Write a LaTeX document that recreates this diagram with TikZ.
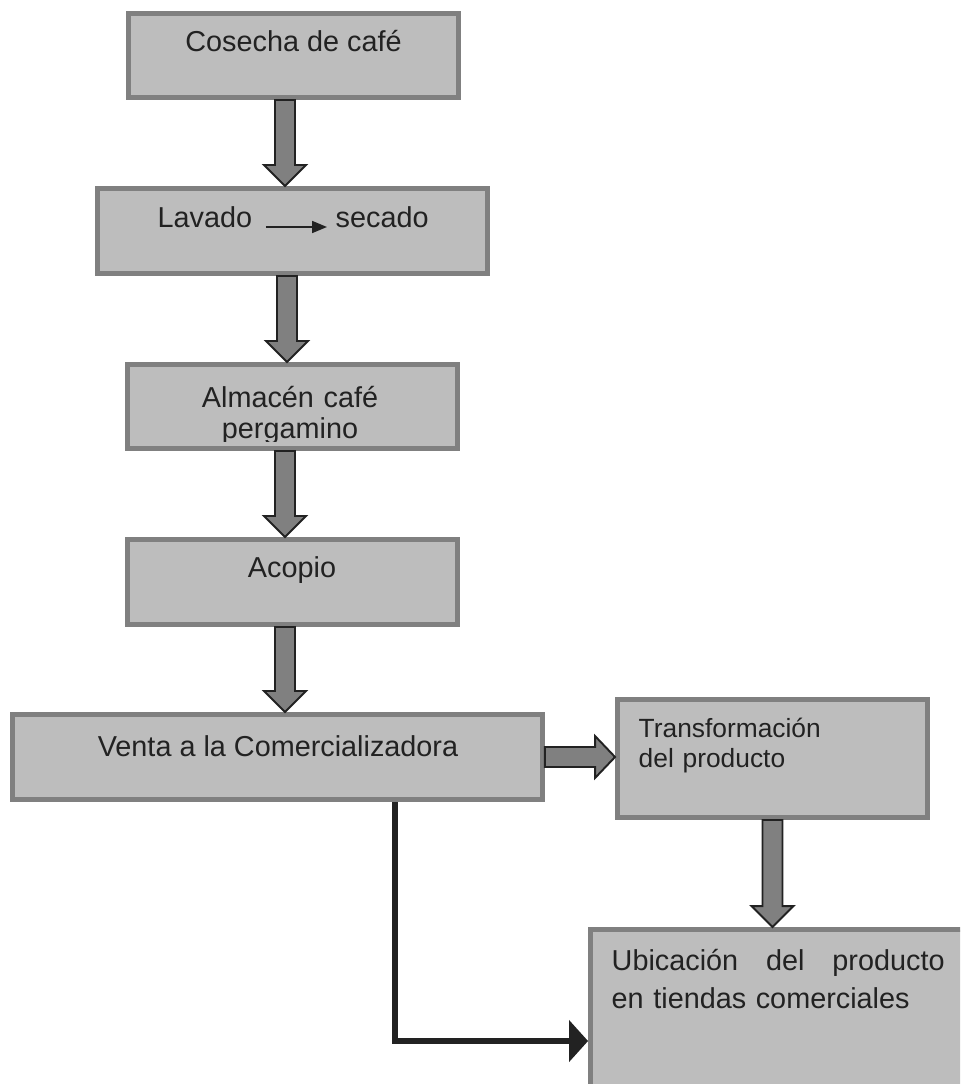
\documentclass[tikz,border=0pt]{standalone}
\usepackage{fontspec}
\setmainfont{Liberation Sans}
\usetikzlibrary{calc,arrows.meta}
\definecolor{boxfill}{RGB}{189,189,189}
\definecolor{boxedge}{RGB}{128,128,128}
\definecolor{arrowfill}{RGB}{128,128,128}
\definecolor{ink}{RGB}{34,34,34}
\tikzset{
	stage/.style={draw=boxedge, fill=boxfill, line width=0.1cm, inner sep=0pt},
	txt/.style={text=ink, inner sep=0pt, font=\fontsize{16.4}{19}\selectfont},
	blockarrow/.style={draw=ink, fill=arrowfill, line width=1.1pt, line join=miter},
	feed/.style={draw=ink, line width=0.13cm, -{Triangle[length=0.38cm,width=0.82cm]}},
}
\begin{document}
\begin{tikzpicture}[thick, x=0.02cm, y=-0.02cm]
			\useasboundingbox (0,0) rectangle (960,1084);
			\clip (0,0) rectangle (960,1084);
			% boxes
			\node[stage, minimum width=6.6cm, minimum height=1.68cm] (cosecha) at (293.5,55.5) {};
			\node[stage, minimum width=7.8cm, minimum height=1.7cm] (lavado) at (292.5,231) {};
			\node[stage, minimum width=6.6cm, minimum height=1.68cm] (almacen) at (292.5,406.5) {};
			\node[stage, minimum width=6.6cm, minimum height=1.7cm] (acopio) at (292.5,582) {};
			\node[stage, minimum width=10.6cm, minimum height=1.7cm] (venta) at (277.5,757) {};
			\node[stage, minimum width=6.2cm, minimum height=2.36cm] (transf) at (772.5,758.5) {};
			\node[stage, minimum width=7.94cm, minimum height=3.76cm] (ubic) at (789,1023.5) {};
			% texts
			\node[txt, anchor=base] (cosecha-txt) at (293.5,52) {Cosecha de café};
			\node[txt, anchor=base west] (lav-txt) at (157,228) {Lavado};
			\node[txt, anchor=base west] (sec-txt) at (335,228) {secado};
			\draw[draw=ink, line width=1pt, -{Triangle[length=0.3cm,width=0.24cm]}] ($(lav-txt.base east)+(13,-1)$) -- ($(sec-txt.base west)+(-8,-1)$);
			\begin{scope}
				\clip (0,0) rectangle (960,441);
				\node[txt, font=\fontsize{16.4}{18.2}\selectfont, text width=5cm, align=center, anchor=base] (almacen-txt) at (290,407) {Almacén café\\pergamino};
			\end{scope}
			\node[txt, anchor=base] (acopio-txt) at (292,577) {Acopio};
			\node[txt, anchor=base] (venta-txt) at (278,756) {Venta a la Comercializadora};
			\node[txt, font=\fontsize{15}{17.6}\selectfont, text width=6cm, align=left, anchor=base west] (transf-txt) at (638,737) {Transformación\\del producto};
			\node[txt, font=\fontsize{16.4}{22.1}\selectfont, text width=6.66cm, align=left, anchor=base west] (ubic-txt) at (611,970) {Ubicación\hspace{\fill}del\hspace{\fill}producto\\en tiendas comerciales};
			% block arrows
			\foreach \src/\dst/\dx in {cosecha/lavado/-8.5, lavado/almacen/-5.5, almacen/acopio/-7.5, acopio/venta/-7.5, transf/ubic/0}{
				\draw[blockarrow] let \p1=($(\src.south)+(\dx,0)$), \p2=(\dst.north) in
					(\x1-0.2cm,\y1) -- (\x1+0.2cm,\y1) -- (\x1+0.2cm,\y2+0.42cm) -- (\x1+0.42cm,\y2+0.42cm)
					-- (\x1,\y2) -- (\x1-0.42cm,\y2+0.42cm) -- (\x1-0.2cm,\y2+0.42cm) -- cycle;
			}
			\draw[blockarrow] let \p1=(venta.east), \p2=(transf.west) in
				(\x1,\y1+0.2cm) -- (\x2-0.4cm,\y1+0.2cm) -- (\x2-0.4cm,\y1+0.42cm) -- (\x2,\y1)
				-- (\x2-0.4cm,\y1-0.42cm) -- (\x2-0.4cm,\y1-0.2cm) -- (\x1,\y1-0.2cm) -- cycle;
			% direct sale
			\draw[feed] ($(venta.south)+(117.5,0)$) |- ($(ubic.north west)+(0,114)$);
\end{tikzpicture}
\end{document}
